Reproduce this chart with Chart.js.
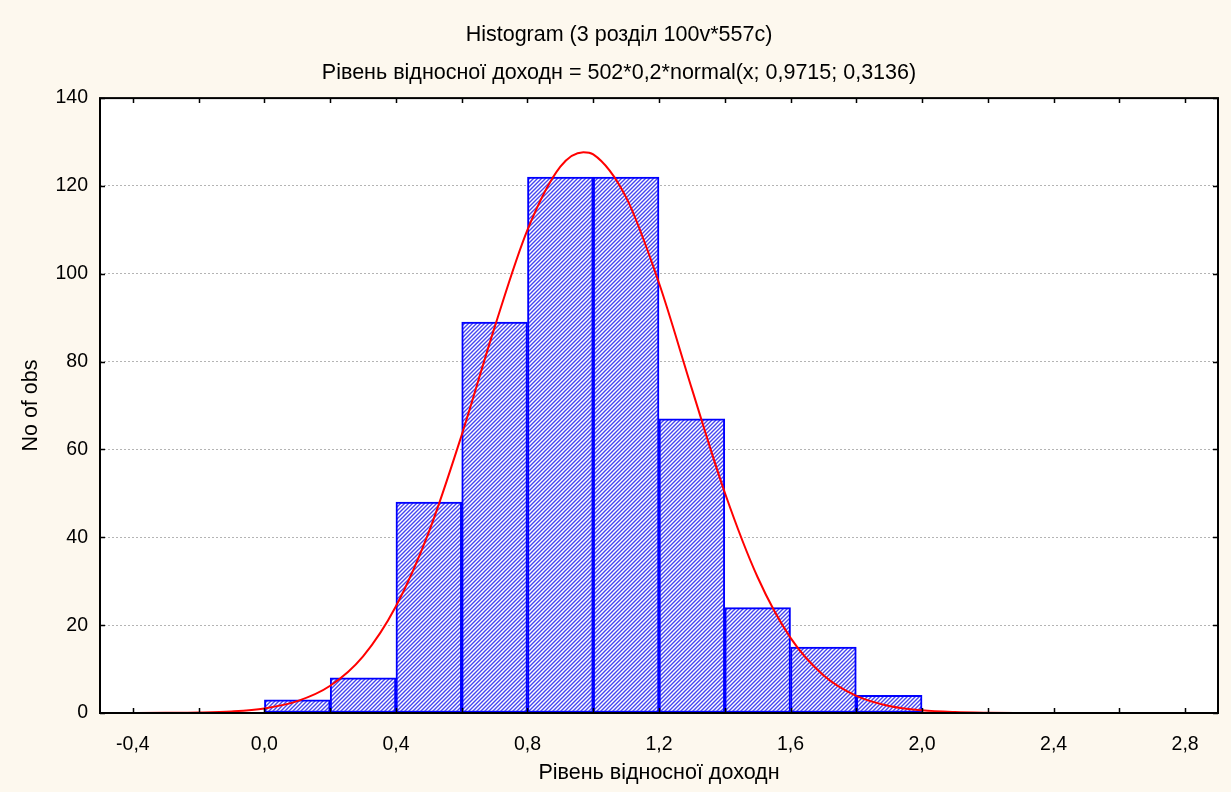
<!DOCTYPE html>
<html>
<head>
<meta charset="utf-8">
<script src="https://cdn.jsdelivr.net/npm/chart.js@4"></script>
<style>
  body { margin: 0; background: #fdf8ee; }
  #wrap { width: 1231px; height: 792px; }
</style>
</head>
<body>
<div id="wrap"><canvas id="histChart" width="1231" height="792"></canvas></div>
<script>
// histogram bins (centres) and counts
var binCenters = [0.1, 0.3, 0.5, 0.7, 0.9, 1.1, 1.3, 1.5, 1.7, 1.9];
var binCounts = [3, 8, 48, 89, 122, 122, 67, 24, 15, 4];

// fitted normal curve
var curveX = [-0.5, -0.4, -0.3, -0.2, -0.1, 0.0, 0.1, 0.2, 0.3, 0.4, 0.5, 0.6, 0.7, 0.8, 0.9, 0.97, 1.0, 1.1, 1.2, 1.3, 1.4, 1.5, 1.6, 1.7, 1.8, 1.9, 2.0, 2.1, 2.2, 2.3, 2.4, 2.6, 2.9];
var curveY = [0, 0.01, 0.04, 0.12, 0.37, 1.05, 2.7, 6.2, 12.9, 24.3, 41.2, 63.3, 87.8, 110.0, 124.4, 127.7, 127.2, 117.4, 97.9, 73.8, 50.2, 30.9, 17.1, 8.6, 3.9, 1.6, 0.6, 0.2, 0.06, 0.02, 0, 0, 0];

var xLabelTicks = [-0.4, 0.0, 0.4, 0.8, 1.2, 1.6, 2.0, 2.4, 2.8];
var xMinorTicks = [-0.4, -0.2, 0.0, 0.2, 0.4, 0.6, 0.8, 1.0, 1.2, 1.4, 1.6, 1.8, 2.0, 2.2, 2.4, 2.6, 2.8];
var yTicks = [0, 20, 40, 60, 80, 100, 120, 140];

var titleLines = ['Histogram (3 розділ 100v*557c)', 'Рівень відносної доходн = 502*0,2*normal(x; 0,9715; 0,3136)'];
var xTitle = 'Рівень відносної доходн';
var yTitle = 'No of obs';

var FONT = "'Liberation Sans', Arial, sans-serif";

// diagonal "/" hatch
var makeHatch = function(){
  var c = document.createElement('canvas');
  c.width = 4;
  c.height = 4;
  var g = c.getContext('2d');
  g.fillStyle = '#ffffff';
  g.fillRect(0, 0, 4, 4);
  g.strokeStyle = '#4646f0';
  g.lineWidth = 1.4;
  g.beginPath();
  g.moveTo(-1, 5); g.lineTo(5, -1);
  g.moveTo(-1, 1); g.lineTo(1, -1);
  g.moveTo(3, 5); g.lineTo(5, 3);
  g.stroke();
  return document.getElementById('histChart').getContext('2d').createPattern(c, 'repeat');
};

var plotFrame = {
  id: 'plotFrame',
  beforeDraw: function(chart){
    var a = chart.chartArea, ctx = chart.ctx;
    ctx.save();
    ctx.fillStyle = '#ffffff';
    ctx.fillRect(a.left, a.top, a.right - a.left, a.bottom - a.top);
    ctx.restore();
  },
  afterDraw: function(chart){
    var a = chart.chartArea, ctx = chart.ctx;
    var xs = chart.scales.x, ys = chart.scales.y;
    ctx.save();
    ctx.strokeStyle = '#000000';
    ctx.lineWidth = 1.5;
    ctx.beginPath();
    xMinorTicks.forEach(function(v){
      var px = Math.round(xs.getPixelForValue(v)) + 0.5;
      ctx.moveTo(px, a.bottom); ctx.lineTo(px, a.bottom - 5);
      ctx.moveTo(px, a.top); ctx.lineTo(px, a.top + 5);
    });
    yTicks.forEach(function(v){
      var py = Math.round(ys.getPixelForValue(v)) + 0.5;
      ctx.moveTo(a.left, py); ctx.lineTo(a.left + 5, py);
      ctx.moveTo(a.right, py); ctx.lineTo(a.right - 5, py);
    });
    ctx.stroke();
    ctx.lineWidth = 2;
    ctx.strokeRect(a.left, a.top, a.right - a.left, a.bottom - a.top);
    ctx.restore();
  }
};

var histChart = new Chart(document.getElementById('histChart').getContext('2d'), {
  type: 'bar',
  data: {
    datasets: [
      {
        type: 'line',
        data: curveX.map(function(x, i){ return {x: x, y: curveY[i]}; }),
        borderColor: '#ff0000',
        borderWidth: 2,
        pointRadius: 0,
        cubicInterpolationMode: 'monotone',
        fill: false,
        order: 0
      },
      {
        type: 'bar',
        data: binCenters.map(function(x, i){ return {x: x, y: binCounts[i]}; }),
        backgroundColor: makeHatch(),
        borderColor: '#0000ff',
        borderWidth: 2,
        borderSkipped: false,
        barPercentage: 1,
        categoryPercentage: 1,
        order: 1
      }
    ]
  },
  options: {
    responsive: false,
    animation: false,
    layout: {padding: {left: 7, right: 0, top: 0, bottom: 0}},
    plugins: {
      legend: {display: false},
      tooltip: {enabled: false},
      title: {
        display: true,
        text: titleLines,
        color: '#000000',
        font: {family: FONT, size: 21.5, weight: 'normal', lineHeight: 1.77},
        padding: {top: 16, bottom: 6}
      }
    },
    scales: {
      x: {
        type: 'linear',
        min: -0.5,
        max: 2.9,
        offset: false,
        grid: {display: false, drawTicks: false},
        border: {display: false},
        afterBuildTicks: function(scale){
          scale.ticks = xLabelTicks.map(function(v){ return {value: v}; });
        },
        afterFit: function(scale){ scale.height = 79; },
        ticks: {
          color: '#000000',
          padding: 20,
          maxRotation: 0,
          autoSkip: false,
          font: {family: FONT, size: 19.5},
          callback: function(v){ return Number(v).toFixed(1).replace('.', ','); }
        },
        title: {
          display: true,
          text: xTitle,
          color: '#000000',
          font: {family: FONT, size: 21.5},
          padding: {top: 6, bottom: 6}
        }
      },
      y: {
        min: 0,
        max: 140,
        afterBuildTicks: function(scale){
          scale.ticks = yTicks.map(function(v){ return {value: v}; });
        },
        afterFit: function(scale){ scale.width = 93; },
        grid: {color: '#b4b4b4', lineWidth: 1, drawTicks: false},
        border: {display: false, dash: [2, 2]},
        ticks: {
          color: '#000000',
          padding: 12,
          font: {family: FONT, size: 19.5}
        },
        title: {
          display: true,
          text: yTitle,
          color: '#000000',
          font: {family: FONT, size: 21.5},
          padding: {top: 11, bottom: 14}
        }
      },
      yRight: {
        position: 'right',
        display: true,
        grid: {display: false, drawTicks: false},
        border: {display: false},
        ticks: {display: false},
        afterFit: function(scale){ scale.width = 13; }
      }
    }
  },
  plugins: [plotFrame]
});
</script>
</body>
</html>
